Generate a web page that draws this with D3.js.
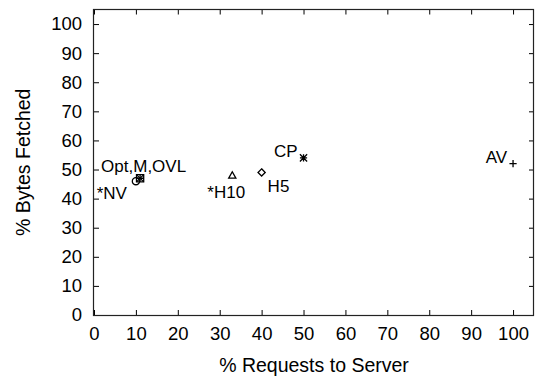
<!DOCTYPE html>
<html>
<head>
<meta charset="utf-8">
<script src="https://cdn.jsdelivr.net/npm/d3@7"></script>
<style>
  html, body { margin: 0; padding: 0; background: #fff; }
  svg text { font-family: "Liberation Sans", Arial, Helvetica, sans-serif; fill: #000; }
</style>
</head>
<body>
<svg id="chart" width="535" height="377"></svg>
<script>
// Each scheme: % of requests sent to the server vs % of bytes fetched
const schemes   = ["AV", "CP", "H5", "*H10", "*NV", "Opt", "M", "OVL"];
const requests  = [100, 50, 40, 33, 10, 11, 11, 11];
const bytes     = [52, 54, 49, 48, 46, 47, 47, 47];
const symbols   = ["plus", "star", "diamond", "triangle", "circle", "square", "cross", "plus"];

// Text labels placed beside the markers (one label may name several schemes)
const labelText = ["AV", "CP", "H5", "*H10", "*NV", "Opt,M,OVL"];
const labelOf   = [0, 1, 2, 3, 4, 5];

const xTicks = d3.range(0, 101, 10);
const yTicks = d3.range(0, 101, 10);

const plotLeft = 94, plotRight = 534, plotTop = 9.5, plotBottom = 315;

const x = d3.scaleLinear().domain([0, 105]).range([plotLeft, plotRight]);
const y = d3.scaleLinear().domain([0, 105]).range([plotBottom, plotTop]);

const svg = d3.select("#chart");

// Axes with inward ticks on all four sides
function styleAxis(g) {
  g.select(".domain").remove();
  g.selectAll(".tick line").attr("stroke", "#000").attr("stroke-width", 1);
  g.selectAll(".tick text").attr("font-size", 18.5).attr("fill", "#000");
}

svg.append("g")
  .attr("transform", `translate(0,${plotBottom})`)
  .call(d3.axisBottom(x).tickValues(xTicks).tickSize(-5).tickPadding(12))
  .call(styleAxis);

svg.append("g")
  .attr("transform", `translate(0,${plotTop})`)
  .call(d3.axisTop(x).tickValues(xTicks).tickSize(-5).tickFormat(""))
  .call(styleAxis);

svg.append("g")
  .attr("transform", `translate(${plotLeft},0)`)
  .call(d3.axisLeft(y).tickValues(yTicks).tickSize(-5).tickPadding(12))
  .call(styleAxis);

svg.append("g")
  .attr("transform", `translate(${plotRight},0)`)
  .call(d3.axisRight(y).tickValues(yTicks).tickSize(-5).tickFormat(""))
  .call(styleAxis);

// Plot frame
svg.append("rect")
  .attr("x", plotLeft - 0.5).attr("y", plotTop)
  .attr("width", plotRight - plotLeft).attr("height", plotBottom - plotTop + 0.5)
  .attr("fill", "none").attr("stroke", "#222").attr("stroke-width", 1.2);

// Axis titles
svg.append("text")
  .attr("x", (plotLeft + plotRight) / 2).attr("y", 372)
  .attr("text-anchor", "middle").attr("font-size", 19.5)
  .text("% Requests to Server");

svg.append("text")
  .attr("transform", `translate(30,${(plotTop + plotBottom) / 2}) rotate(-90)`)
  .attr("text-anchor", "middle").attr("font-size", 19.5)
  .text("% Bytes Fetched");

// Point symbols
const s = 3.6;
function symbolPath(kind) {
  switch (kind) {
    case "plus": return `M${-s},0H${s}M0,${-s}V${s}`;
    case "cross": return `M${-s},${-s}L${s},${s}M${-s},${s}L${s},${-s}`;
    case "star": return `M${-s},0H${s}M0,${-s}V${s}M${-s},${-s}L${s},${s}M${-s},${s}L${s},${-s}`;
    case "diamond": return `M0,${-s}L${s},0L0,${s}L${-s},0Z`;
    case "triangle": return `M0,${-s}L${s},${s * 0.8}L${-s},${s * 0.8}Z`;
    case "square": return `M${-s},${-s}H${s}V${s}H${-s}Z`;
    case "circle": return `M${-s},0A${s},${s} 0 1,0 ${s},0A${s},${s} 0 1,0 ${-s},0`;
  }
}

const pts = schemes.map((name, i) => ({ name, rx: requests[i], by: bytes[i], sym: symbols[i] }));

svg.append("g").selectAll("path")
  .data(pts)
  .join("path")
  .attr("transform", d => `translate(${x(d.rx)},${y(d.by)})`)
  .attr("d", d => symbolPath(d.sym))
  .attr("fill", "none")
  .attr("stroke", "#000")
  .attr("stroke-width", 1.3);

// Labels, offset from their marker
const offsets = [
  { dx: -6, dy: -1, anchor: "end" },    // AV
  { dx: -6, dy: -1, anchor: "end" },    // CP
  { dx: 6, dy: 20, anchor: "start" },   // H5
  { dx: -25, dy: 23, anchor: "start" }, // *H10
  { dx: -9, dy: 18, anchor: "end" },    // *NV
  { dx: -39, dy: -6, anchor: "start" }  // Opt,M,OVL
];

svg.append("g").selectAll("text")
  .data(labelText)
  .join("text")
  .attr("x", (t, i) => x(requests[labelOf[i]]) + offsets[i].dx)
  .attr("y", (t, i) => y(bytes[labelOf[i]]) + offsets[i].dy)
  .attr("text-anchor", (t, i) => offsets[i].anchor)
  .attr("font-size", 17)
  .text(t => t);
</script>
</body>
</html>
